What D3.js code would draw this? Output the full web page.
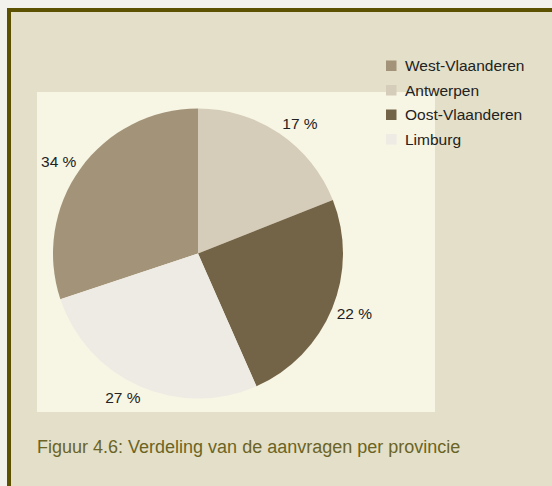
<!DOCTYPE html>
<html>
<head>
<meta charset="utf-8">
<script src="https://cdn.jsdelivr.net/npm/d3@7"></script>
<style>
  html, body { margin: 0; padding: 0; background: #f3f1ec; }
  svg { display: block; }
  text { font-family: "Liberation Sans", Arial, Helvetica, sans-serif; }
</style>
</head>
<body>
<svg id="chart" width="552" height="486"></svg>
<script>
// ---- data (legend order) ----
const categories = ["West-Vlaanderen", "Antwerpen", "Oost-Vlaanderen", "Limburg"];
const sliceValues = [30.1, 19.0, 24.4, 26.5];          // shares as drawn in the pie
const labelTexts = ["34 %", "17 %", "22 %", "27 %"];    // printed data labels
const colors = ["#a39378", "#d5cdba", "#746447", "#eeeae4"];
const caption = "Figuur 4.6: Verdeling van de aanvragen per provincie";

const svg = d3.select("#chart");
const W = 552, H = 486;

// page background
svg.append("rect").attr("width", W).attr("height", H).attr("fill", "#f3f1ec");
// panel with dark border (top + left visible)
svg.append("rect").attr("x", 9).attr("y", 10).attr("width", 700).attr("height", 700)
  .attr("fill", "#e3dfc8").attr("stroke", "#5c5100").attr("stroke-width", 4);
// plot area
svg.append("rect").attr("x", 37).attr("y", 92).attr("width", 398).attr("height", 320)
  .attr("fill", "#f7f5e4");

// pie
const cx = 198, cy = 253.5, R = 145;
const data = categories.map((c, i) => ({ name: c, value: sliceValues[i], label: labelTexts[i], color: colors[i] }));
const total = d3.sum(sliceValues);
const start = -sliceValues[0] / total * 2 * Math.PI;
const pie = d3.pie().value(d => d.value).sort(null).startAngle(start).endAngle(start + 2 * Math.PI);
const arcs = pie(data);
const arc = d3.arc().innerRadius(0).outerRadius(R);

const g = svg.append("g").attr("transform", `translate(${cx},${cy})`);
g.selectAll("path").data(arcs).join("path")
  .attr("d", arc).attr("fill", d => d.data.color);

// labels: "outside end" style placement
const fs = 15.5;
const rL = 150;
arcs.forEach(a => {
  const th = (a.startAngle + a.endAngle) / 2;
  const s = Math.sin(th), c = Math.cos(th);
  const px = rL * s, py = -rL * c;
  const t = g.append("text").attr("font-size", fs).attr("fill", "#222")
    .attr("text-anchor", "middle").text(a.data.label);
  const w = t.node().getComputedTextLength();
  const h = fs * 0.9;
  const ox = Math.max(-1, Math.min(1, s * 2)) * w / 2;
  const oy = -c * h / 2;
  t.attr("x", px + ox).attr("y", py + oy + fs * 0.36);
});

// legend
const legend = svg.append("g");
const ly0 = 65.7, lstep = 24.5;
categories.forEach((c, i) => {
  const y = ly0 + i * lstep;
  legend.append("rect").attr("x", 386).attr("y", y - 5.2).attr("width", 10.5).attr("height", 10.5)
    .attr("fill", colors[i]);
  legend.append("text").attr("x", 405).attr("y", y + 5.4).attr("font-size", fs)
    .attr("fill", "#222").text(c);
});

// caption
svg.append("text").attr("x", 37).attr("y", 453).attr("font-size", 18)
  .attr("fill", "#6b6424").text(caption);
</script>
</body>
</html>
